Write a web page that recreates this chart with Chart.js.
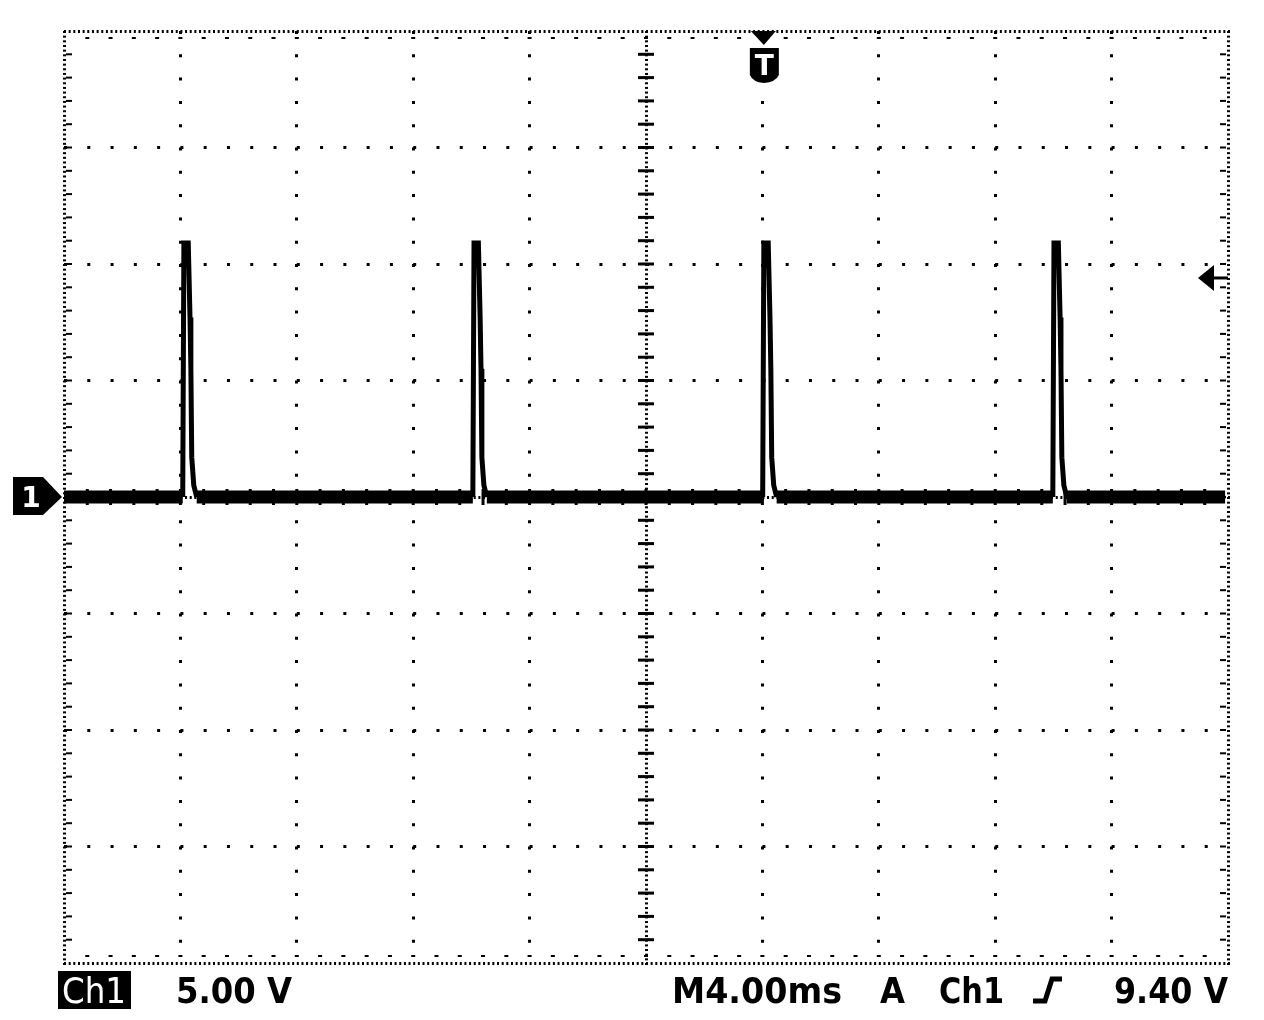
<!DOCTYPE html>
<html>
<head>
<meta charset="utf-8">
<title>Ch1 pulse train</title>
<script src="https://cdn.jsdelivr.net/npm/chart.js@4.4.1/dist/chart.umd.min.js"></script>
<style>
  html, body { margin: 0; padding: 0; background: #fff; }
  canvas { display: block; }
</style>
</head>
<body>
<canvas id="scope" width="1264" height="1020"></canvas>
<script>
// time in ms (4 ms/div, 10 div), voltage in V (5 V/div, 8 div)
const traceTime = [
  0,
  4.08, 4.12, 4.27, 4.33, 4.36, 4.39, 4.46, 4.56,
  14.05, 14.09, 14.24, 14.30, 14.33, 14.36, 14.43, 14.53,
  24.01, 24.05, 24.20, 24.26, 24.29, 24.32, 24.39, 24.49,
  33.98, 34.02, 34.17, 34.23, 34.26, 34.29, 34.36, 34.46,
  39.9
];
const traceVolts = [
  0,
  0, 10.9, 10.9, 7.7, 5.5, 1.7, 0.5, 0,
  0, 10.9, 10.9, 7.7, 5.5, 1.7, 0.5, 0,
  0, 10.9, 10.9, 7.7, 5.5, 1.7, 0.5, 0,
  0, 10.9, 10.9, 7.7, 5.5, 1.7, 0.5, 0,
  0
];

const timeRange = [0, 40];
const voltRange = [-20, 20];
const triggerTime = 24.05;
const triggerLevel = 9.4;

const statusLeft = ['Ch1', '5.00 V'];
const statusRight = ['M4.00ms', 'A', 'Ch1', '9.40 V'];

const points = traceTime.map((t, i) => ({ x: t, y: traceVolts[i] }));

const hideFrame = (vals) => (c) => (c.tick && vals.includes(c.tick.value)) ? 'rgba(0,0,0,0)' : '#000';

// frame, center cross and tick marks of the scope graticule
const graticule = {
  id: 'graticule',
  beforeDatasetsDraw(chart) {
    const { ctx, chartArea: a, scales: { x, y } } = chart;
    const minorX = x.getPixelForValue(0.8) - x.getPixelForValue(0);
    const minorY = y.getPixelForValue(-1) - y.getPixelForValue(0);
    const cx = x.getPixelForValue(20);
    const cy = y.getPixelForValue(0);
    ctx.save();
    ctx.fillStyle = '#000';

    for (let px = a.left; px <= a.right + 0.5; px += minorX / 5) {
      ctx.fillRect(px, a.top - 1, 2, 3);
      ctx.fillRect(px, a.bottom - 1, 2, 3);
      ctx.fillRect(px, cy - 1, 2, 3);
    }
    for (let py = a.top; py <= a.bottom + 0.5; py += minorY / 5) {
      ctx.fillRect(a.left - 1, py, 3, 2);
      ctx.fillRect(a.right - 1, py, 3, 2);
      ctx.fillRect(cx - 1, py, 3, 2);
    }
    for (let px = a.left + minorX; px < a.right - 1; px += minorX) {
      ctx.fillRect(px - 2, a.top + 6, 4, 2);
      ctx.fillRect(px - 2, a.bottom - 8, 4, 2);
      ctx.fillRect(px - 1.5, cy - 8, 3, 16);
    }
    for (let py = a.top + minorY; py < a.bottom - 1; py += minorY) {
      ctx.fillRect(a.left + 2, py - 1, 6, 2);
      ctx.fillRect(a.right - 8, py - 1, 6, 2);
      ctx.fillRect(cx - 8, py - 1.5, 16, 3);
    }
    ctx.restore();
  },
  afterDraw(chart) {
    const { ctx, chartArea: a, scales: { x, y } } = chart;
    const gy = y.getPixelForValue(0);
    const tx = x.getPixelForValue(triggerTime);
    const ty = y.getPixelForValue(triggerLevel);
    ctx.save();
    ctx.fillStyle = '#000';
    ctx.strokeStyle = '#000';

    // channel 1 ground marker
    ctx.beginPath();
    ctx.moveTo(13, gy - 20);
    ctx.lineTo(43, gy - 20);
    ctx.lineTo(a.left - 2, gy);
    ctx.lineTo(43, gy + 18);
    ctx.lineTo(13, gy + 18);
    ctx.closePath();
    ctx.fill();
    ctx.fillStyle = '#fff';
    ctx.font = 'bold 28px "DejaVu Sans"';
    ctx.textAlign = 'center';
    ctx.fillText('1', 31, gy + 10);

    // trigger position marker
    ctx.fillStyle = '#000';
    ctx.beginPath();
    ctx.moveTo(tx - 13, a.top);
    ctx.lineTo(tx + 12, a.top);
    ctx.lineTo(tx, a.top + 14);
    ctx.closePath();
    ctx.fill();
    ctx.beginPath();
    ctx.moveTo(tx - 14, a.top + 17);
    ctx.lineTo(tx + 15, a.top + 17);
    ctx.lineTo(tx + 15, a.top + 44);
    ctx.quadraticCurveTo(tx + 12, a.top + 51, tx, a.top + 52);
    ctx.quadraticCurveTo(tx - 11, a.top + 51, tx - 14, a.top + 44);
    ctx.closePath();
    ctx.fill();
    ctx.fillStyle = '#fff';
    ctx.font = 'bold 28px "DejaVu Sans"';
    ctx.fillText('T', tx + 0.5, a.top + 44);

    // trigger level arrow
    ctx.fillStyle = '#000';
    ctx.beginPath();
    ctx.moveTo(1198, ty);
    ctx.lineTo(1214, ty - 13);
    ctx.lineTo(1214, ty + 13);
    ctx.closePath();
    ctx.fill();
    ctx.lineWidth = 3;
    ctx.beginPath();
    ctx.moveTo(1212, ty);
    ctx.lineTo(a.right, ty);
    ctx.stroke();

    // status line
    const base = 1003;
    ctx.textAlign = 'left';
    ctx.font = '36px "DejaVu Sans"';
    ctx.fillRect(58, 971, 73, 38);
    ctx.fillStyle = '#fff';
    ctx.fillText(statusLeft[0], 62, base, 64);
    ctx.fillStyle = '#000';
    ctx.font = 'bold 35px "DejaVu Sans"';
    ctx.fillText(statusLeft[1], 176, base, 116);
    ctx.fillText(statusRight[0], 672, base, 170);
    ctx.fillText(statusRight[1], 880, base, 25);
    ctx.fillText(statusRight[2], 939, base, 65);
    ctx.fillText(statusRight[3], 1114, base, 114);

    // rising slope symbol
    ctx.lineWidth = 5;
    ctx.beginPath();
    ctx.moveTo(1033, base - 2);
    ctx.lineTo(1045, base - 2);
    ctx.lineTo(1052, base - 24);
    ctx.lineTo(1062, base - 24);
    ctx.stroke();
    ctx.restore();
  }
};

const config = {
  type: 'line',
  data: {
    datasets: [
      {
        label: 'Ch1',
        data: points,
        borderColor: '#000',
        borderWidth: 5,
        pointRadius: 0,
        tension: 0,
        fill: false,
        segment: {
          // the flat baseline carries noise, so it shows as a thick band
          borderWidth: c => (c.p0.parsed.y === 0 && c.p1.parsed.y === 0) ? 13 : 5,
        },
      },
    ],
  },
  options: {
    responsive: false,
    animation: false,
    layout: { padding: { left: 64, right: 36, top: 31, bottom: 57 } },
    plugins: { legend: { display: false }, tooltip: { enabled: false } },
    scales: {
      x: {
        type: 'linear',
        min: timeRange[0],
        max: timeRange[1],
        ticks: { display: false, stepSize: 4 },
        grid: { color: hideFrame([0, 20, 40]), lineWidth: 3, drawTicks: false },
        border: { display: false, dash: [3, 20.3] },
      },
      y: {
        min: voltRange[0],
        max: voltRange[1],
        ticks: { display: false, stepSize: 5 },
        grid: { color: hideFrame([-20, 0, 20]), lineWidth: 3, drawTicks: false },
        border: { display: false, dash: [3, 20.28] },
      },
    },
  },
  plugins: [graticule],
};

const ctx = document.getElementById('scope').getContext('2d');
new Chart(ctx, config);
</script>
</body>
</html>
